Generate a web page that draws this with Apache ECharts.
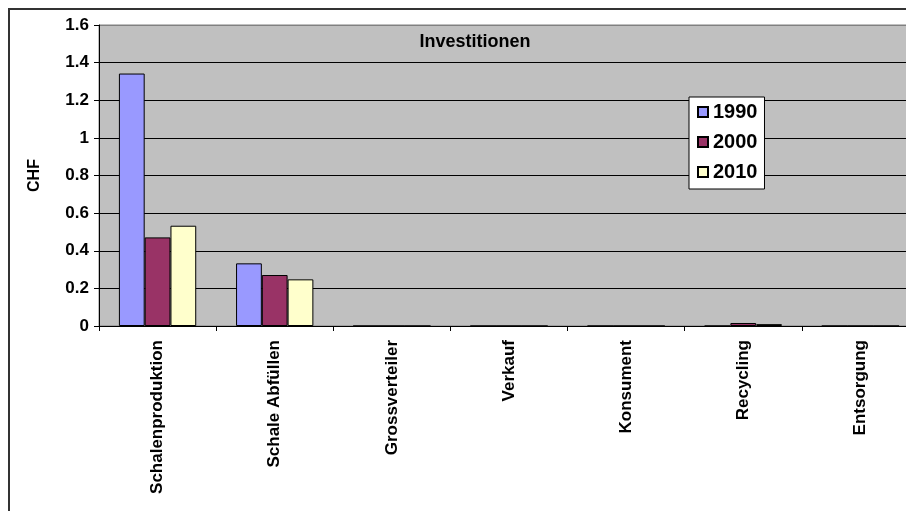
<!DOCTYPE html>
<html>
<head>
<meta charset="utf-8">
<script src="https://cdn.jsdelivr.net/npm/echarts@6/dist/echarts.min.js"></script>
<style>
html,body{margin:0;padding:0;background:#fff;overflow:hidden;width:906px;height:511px;}
#chart{width:932px;height:511px;}
</style>
</head>
<body>
<div id="chart"></div>
<script>
const categories = ['Schalenproduktion', 'Schale Abfüllen', 'Grossverteiler', 'Verkauf', 'Konsument', 'Recycling', 'Entsorgung'];
const seriesNames = ['1990', '2000', '2010'];
const values1990 = [1.342, 0.333, 0, 0, 0, 0, 0];
const values2000 = [0.471, 0.271, 0, 0, 0, 0.016, 0];
const values2010 = [0.533, 0.248, 0, 0, 0, 0.010, 0];
const yTicks = [0, 0.2, 0.4, 0.6, 0.8, 1, 1.2, 1.4, 1.6];
const chartTitle = 'Investitionen';
const yName = 'CHF';

const colors = ['#9999FF', '#993366', '#FFFFCC'];
const font = 'Liberation Sans, Arial, sans-serif';
const allValues = [values1990, values2000, values2010];

const chart = echarts.init(document.getElementById('chart'));
chart.setOption({
  animation: false,
  backgroundColor: '#ffffff',
  textStyle: { fontFamily: font },
  graphic: [
    { type: 'rect', shape: { x: 9, y: 9, width: 1000, height: 1000 },
      style: { fill: 'none', stroke: '#333333', lineWidth: 2 }, z: 100, silent: true },
    { type: 'text', x: 475, y: 42, z: 100,
      style: { text: chartTitle, fontFamily: font, fontWeight: 'bold', fontSize: 18,
               fill: '#000', textAlign: 'center', textVerticalAlign: 'middle' } }
  ],
  grid: {
    left: 99, top: 25, width: 820, height: 301,
    show: true, backgroundColor: '#C0C0C0', borderColor: '#808080', borderWidth: 1
  },
  legend: {
    data: seriesNames,
    orient: 'vertical',
    left: 689, top: 97,
    backgroundColor: '#ffffff', borderColor: '#000000', borderWidth: 1,
    padding: [5, 7, 7, 8],
    itemWidth: 10, itemHeight: 10, itemGap: 10,
    icon: 'rect',
    textStyle: { fontFamily: font, fontWeight: 'bold', fontSize: 20, lineHeight: 20, color: '#000' }
  },
  xAxis: {
    type: 'category',
    data: categories,
    axisLine: { lineStyle: { color: '#000', width: 1 } },
    axisTick: { show: true, length: 5, lineStyle: { color: '#000' } },
    axisLabel: { rotate: 90, interval: 0, margin: 14, color: '#000',
                 fontFamily: font, fontWeight: 'bold', fontSize: 17 },
    splitLine: { show: false }
  },
  yAxis: {
    type: 'value',
    min: 0, max: 1.6, interval: 0.2,
    name: yName, nameLocation: 'middle', nameGap: 56, nameRotate: 90,
    nameTextStyle: { fontFamily: font, fontWeight: 'bold', fontSize: 16, color: '#000' },
    axisLine: { show: true, lineStyle: { color: '#000', width: 1 } },
    axisTick: { show: true, length: 5, lineStyle: { color: '#000' } },
    axisLabel: { margin: 10, color: '#000', fontFamily: font, fontWeight: 'bold', fontSize: 17,
                 formatter: v => { const t = yTicks.find(x => Math.abs(x - v) < 1e-9); return t === undefined ? '' : String(t); } },
    splitLine: { show: true, lineStyle: { color: ['#000','#000','#000','#000','#000','#000','#000','#000','#808080'], width: 1 } }
  },
  series: seriesNames.map((name, i) => ({
    name: name,
    type: 'bar',
    data: allValues[i],
    barGap: '0%',
    barCategoryGap: '34%',
    itemStyle: { color: colors[i], borderColor: '#000', borderWidth: 1 }
  }))
});
</script>
</body>
</html>
